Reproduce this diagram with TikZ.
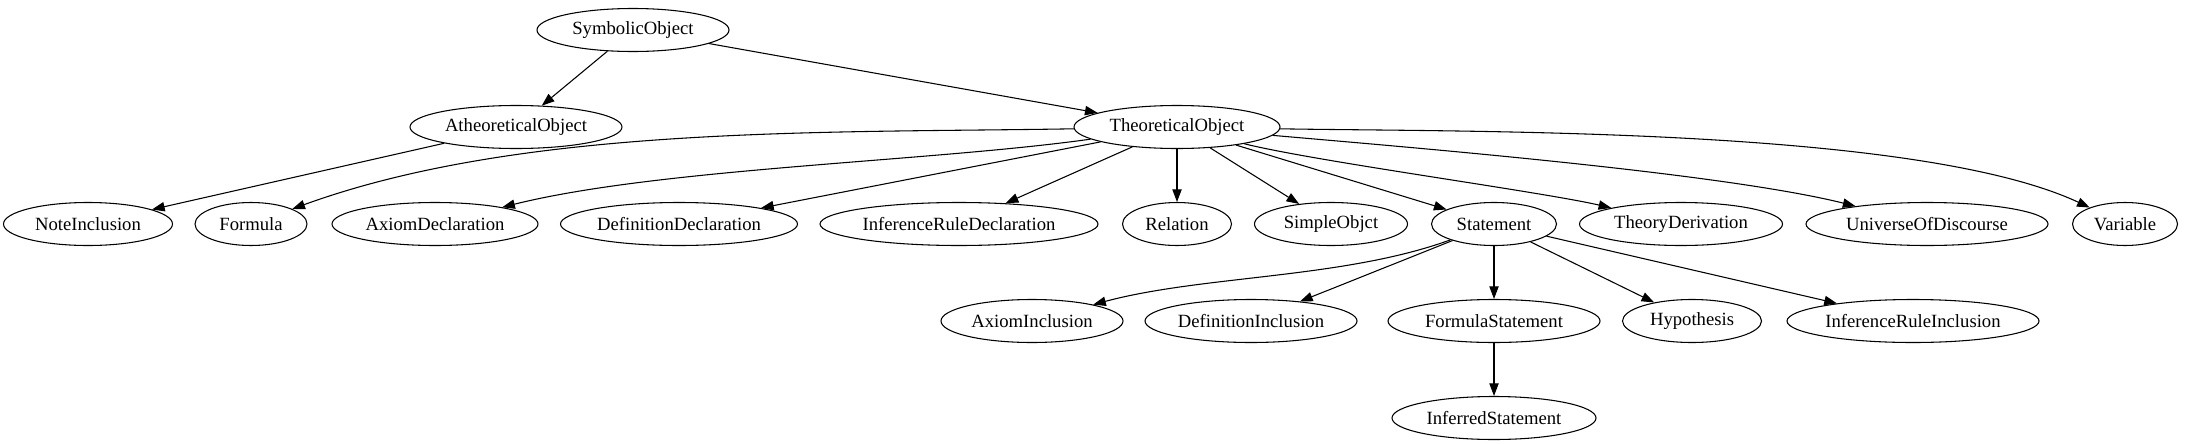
\documentclass[tikz,border=0pt]{standalone}
\usepackage{fontspec}
\setmainfont{Liberation Serif}
\usetikzlibrary{arrows.meta,shapes.geometric}

\begin{document}
\begin{tikzpicture}[x=0.75pt,y=-0.75pt,
  every node/.style={font=\fontsize{14}{16}\selectfont},
  cls/.style={draw,ellipse,line width=0.8pt,inner sep=0pt,minimum height=43*0.75pt,minimum width=#1*0.75pt},
  isa/.style={-{Triangle[length=9.5pt,width=7pt]},line width=0.8pt}]
  \useasboundingbox (0,0) rectangle (2187,443);
  % rank 0 and 1
  \node[cls=192] (symb) at (633,30) {SymbolicObject};
  \node[cls=212] (athe) at (516,127) {AtheoreticalObject};
  \node[cls=206] (theo) at (1177,127) {TheoreticalObject};
  % rank 2
  \node[cls=169] (note) at (88,224) {NoteInclusion};
  \node[cls=112] (form) at (251,224) {Formula};
  \node[cls=206] (axdec) at (435,224) {AxiomDeclaration};
  \node[cls=237] (defdec) at (679,224) {DefinitionDeclaration};
  \node[cls=278] (irdec) at (959,224) {InferenceRuleDeclaration};
  \node[cls=109] (rel) at (1177,224) {Relation};
  \node[cls=153] (simp) at (1331,224) {SimpleObjct};
  \node[cls=125] (stat) at (1494,224) {Statement};
  \node[cls=203] (thder) at (1681,224) {TheoryDerivation};
  \node[cls=242] (univ) at (1927,224) {UniverseOfDiscourse};
  \node[cls=105] (var) at (2125,224) {Variable};
  % rank 3 and 4
  \node[cls=182] (axinc) at (1032,321) {AxiomInclusion};
  \node[cls=212] (definc) at (1251,321) {DefinitionInclusion};
  \node[cls=212] (fstat) at (1494,321) {FormulaStatement};
  \node[cls=139] (hyp) at (1692,321) {Hypothesis};
  \node[cls=252] (irinc) at (1913,321) {InferenceRuleInclusion};
  \node[cls=204] (infst) at (1494,418) {InferredStatement};
  % edges
  \draw[isa] (symb) -- (athe);
  \draw[isa] (symb) -- (theo);
  \draw[isa] (athe) -- (note);
  \draw[isa] (theo) to[out=181,in=20,looseness=0.8] (form);
  \draw[isa] (theo) to[out=188,in=14,looseness=0.7] (axdec);
  \draw[isa] (theo) -- (defdec);
  \draw[isa] (theo) -- (irdec);
  \draw[isa] (theo) -- (rel);
  \draw[isa] (theo) -- (simp);
  \draw[isa] (theo) -- (stat);
  \draw[isa] (theo) to[out=-14,in=167,looseness=0.5] (thder);
  \draw[isa] (theo) to[out=-5,in=166,looseness=0.6] (univ);
  \draw[isa] (theo) to[out=-1,in=155,looseness=0.6] (var);
  \draw[isa] (stat) to[out=200,in=15,looseness=0.8] (axinc);
  \draw[isa] (stat) -- (definc);
  \draw[isa] (stat) -- (fstat);
  \draw[isa] (stat) -- (hyp);
  \draw[isa] (stat) -- (irinc);
  \draw[isa] (fstat) -- (infst);
\end{tikzpicture}
\end{document}
